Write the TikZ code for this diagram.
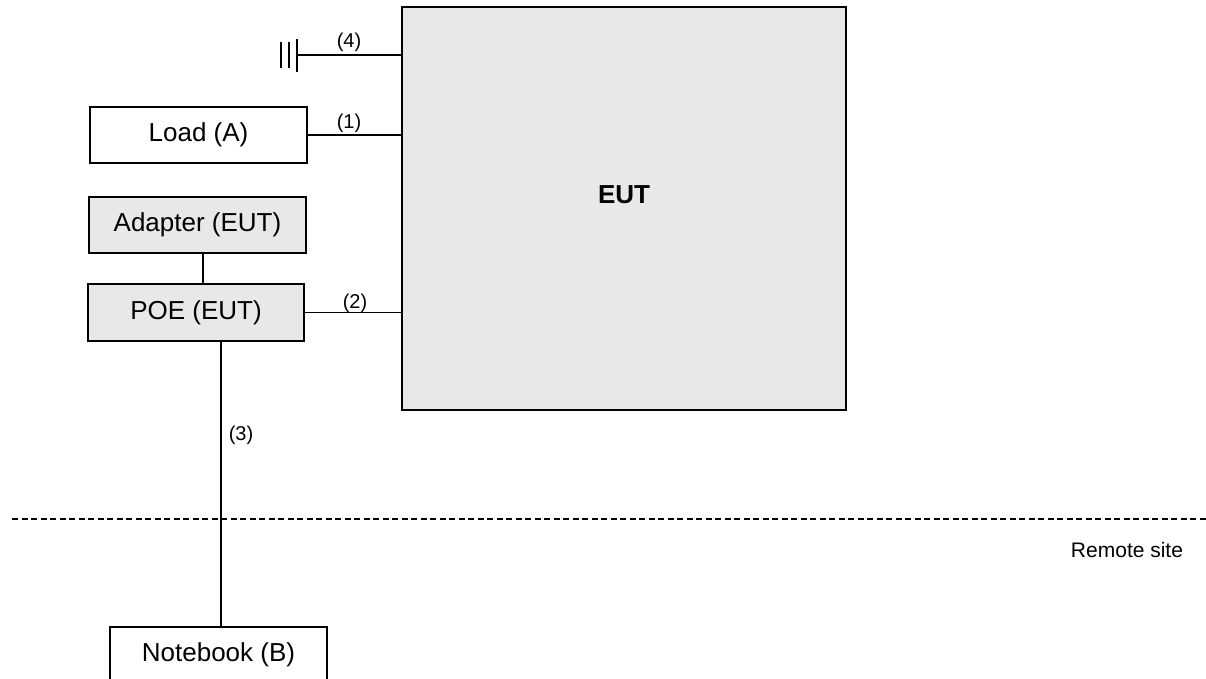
\documentclass[tikz,border=0pt]{standalone}
\usepackage{fontspec}
\setmainfont{Liberation Sans}
\definecolor{boxgray}{HTML}{E8E8E8}
\begin{document}
\begin{tikzpicture}[x=1pt,y=-1pt,
  devbox/.style={draw=black,line width=1.4pt,rectangle,minimum width=217pt,minimum height=56pt,inner sep=0pt,font=\fontsize{26}{30}\selectfont},
  graybox/.style={devbox,fill=boxgray},
  wire/.style={draw=black,line width=1.3pt},
  lbl/.style={inner sep=0pt,font=\fontsize{20}{24}\selectfont}]
\clip (0,0) rectangle (1206,679);
\fill[white] (0,0) rectangle (1206,679);
% EUT
\node[draw=black,fill=boxgray,line width=1.6pt,minimum width=444pt,minimum height=403pt,inner sep=0pt] (eut) at (624,208.5) {};
\node[inner sep=0pt,font=\fontsize{26}{30}\selectfont\bfseries] (euttxt) at (624,195) {EUT};
% boxes
\node[devbox] (load) at (198.5,135) {Load (A)};
\node[graybox] (adapter) at (197.5,225) {Adapter (EUT)};
\node[graybox,minimum width=216pt,minimum height=57pt] (poe) at (196,312.5) {POE (EUT)};
\node[devbox] (notebook) at (218.5,655) {Notebook (B)};
% ground symbol
\coordinate (gnd) at (297,55);
\draw[wire] (281,42) -- (281,68);
\draw[wire] (289,42) -- (289,68);
\draw[wire] (297,39) -- (297,72);
% connectors
\draw[wire] (gnd) -- (gnd -| eut.west);
\draw[wire] (load.east) -- (load.east -| eut.west);
\draw[wire] (poe.east) -- (poe.east -| eut.west);
\draw[wire] ([xshift=5.5pt]adapter.south) -- ([xshift=5.5pt]adapter.south |- poe.north);
\draw[wire] ([xshift=25pt]poe.south) -- ([xshift=25pt]poe.south |- notebook.north);
% labels
\node[lbl] (l4) at (349,42) {(4)};
\node[lbl] (l1) at (349,123) {(1)};
\node[lbl] (l2) at (355,303) {(2)};
\node[lbl] (l3) at (241,435) {(3)};
% remote site boundary
\coordinate (dl) at (12,519);
\coordinate (dr) at (1206,519);
\draw[line width=1.3pt,dash pattern=on 6pt off 3.5pt] (dl) -- (dr);
\node[inner sep=0pt,font=\fontsize{21}{25}\selectfont] (remote) at (1127,550) {Remote site};
\end{tikzpicture}
\end{document}
